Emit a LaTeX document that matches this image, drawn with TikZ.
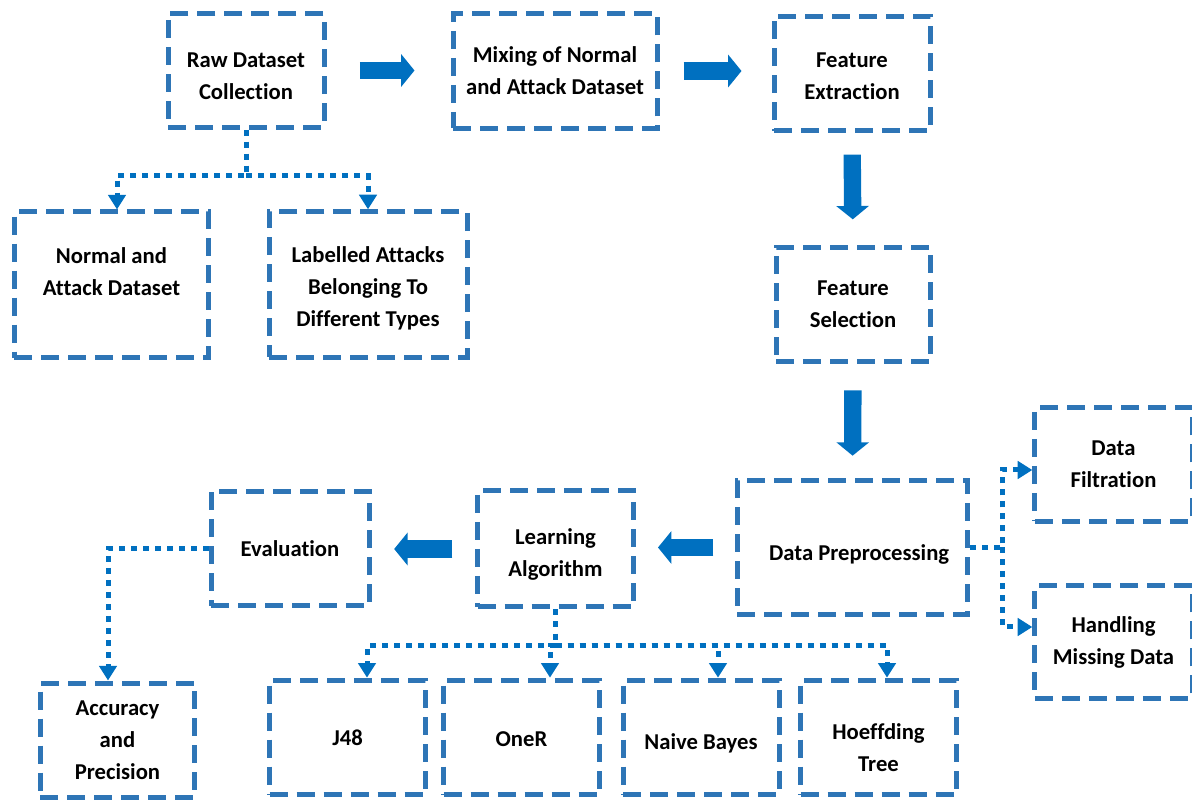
\documentclass[tikz,border=0pt]{standalone}
\usepackage{fontspec}
\setmainfont{Carlito}[Ligatures=NoCommon]
\usepackage{tikz}
\usetikzlibrary{arrows.meta, positioning, calc}
\usepackage{xcolor}
\definecolor{boxblue}{HTML}{2E75B6}
\definecolor{flowblue}{HTML}{0070C0}
% move box text up/down without moving the box
\newcommand{\txtshift}[2]{\raisebox{#1}[\height][\depth]{\begin{tabular}{@{}c@{}}#2\end{tabular}}}

\begin{document}
\begin{tikzpicture}[x=0.75pt, y=0.75pt,
  stagebox/.style={draw=boxblue, line width=3.75pt, dash pattern=on 13.5pt off 6.75pt,
    align=center, font=\fontsize{17}{24}\selectfont\bfseries, inner sep=0pt,
    minimum width=117pt, minimum height=86pt},
  bigarrow/.style={-{Triangle[length=10pt, width=24pt]}, line width=13pt, flowblue,
    shorten <=17pt, shorten >=17pt},
  dotarrow/.style={-{Triangle[length=11pt, width=13pt]}, line width=3.75pt, flowblue,
    dash pattern=on 4.5pt off 4.5pt}]
  \useasboundingbox (0,0) rectangle (1192,800);

  % Top row
  \node[stagebox, minimum height=85pt] (raw) at (246, 729.5)
    {\txtshift{-5pt}{Raw Dataset\\Collection}};
  \node[stagebox, minimum width=153pt] (mix) at (555, 729) {Mixing of Normal\\and Attack Dataset};
  \node[stagebox] (fext) at (852, 726.5) {\txtshift{-2.5pt}{Feature\\Extraction}};

  % Dataset split
  \node[stagebox, minimum width=146pt, minimum height=109.5pt] (nad) at (111.5, 515)
    {\txtshift{9pt}{Normal and\\Attack Dataset}};
  \node[stagebox, minimum width=148.5pt, minimum height=109pt] (lab) at (368, 515.5)
    {\txtshift{-3pt}{Labelled Attacks\\Belonging To\\Different Types}};

  % Right column
  \node[stagebox, minimum width=115.5pt] (fsel) at (853, 495.5) {Feature\\Selection};
  \node[stagebox, minimum width=173pt, minimum height=100pt] (dpre) at (852.5, 252.5)
    {\txtshift{-5pt}{\hspace*{10pt}Data Preprocessing}};
  \node[stagebox, minimum width=118pt, minimum height=85pt] (dfil) at (1113.5, 335.5)
    {Data\\Filtration};
  \node[stagebox, minimum width=118pt, minimum height=84pt] (hmd) at (1113.5, 158)
    {Handling\\Missing Data};

  % Middle row
  \node[stagebox, minimum height=87pt] (lalg) at (555.5, 251)
    {\txtshift{-3.5pt}{Learning\\Algorithm}};
  \node[stagebox, minimum width=118.5pt] (eval) at (290, 251.5) {Evaluation};

  % Bottom row
  \node[stagebox, minimum width=116pt, minimum height=85.5pt] (acc) at (117.5, 60)
    {Accuracy\\and\\Precision};
  \node[stagebox] (j48) at (347.5, 62.5) {J48};
  \node[stagebox] (oner) at (521.5, 62.5) {\txtshift{-2pt}{OneR}};
  \node[stagebox] (nb) at (701, 62.5) {\txtshift{-4.5pt}{Naive Bayes}};
  \node[stagebox] (ht) at (878.5, 62.5) {\txtshift{-9pt}{Hoeffding\\Tree}};

  % Main flow
  \draw[bigarrow, shorten <=25pt, shorten >=27pt] (raw.east) -- (raw.east -| mix.west);
  \draw[bigarrow, shorten <=18pt, shorten >=22.5pt] (mix.east) -- (mix.east -| fext.west);
  \draw[bigarrow, shorten <=16pt, shorten >=19pt] (fext.south) -- (fsel.north);
  \draw[bigarrow, shorten <=19.5pt] (fsel.south) -- (dpre.north);
  \draw[bigarrow, shorten <=16pt, shorten >=16.5pt] (dpre.west) -- (dpre.west -| lalg.east);
  \draw[bigarrow] (lalg.west) -- (lalg.west -| eval.east);

  % Dotted branches
  \draw[dotarrow] (raw.south) -- ++(0,-46) coordinate (rawsplit) -| ($(nad.north)+(5.5,0)$);
  \draw[dotarrow] (rawsplit) -| (lab.north);

  \draw[dotarrow] (dpre.east) -- ++(32,0) coordinate (dsplit) |- ($(dfil.west)+(0,-5.5)$);
  \draw[dotarrow] (dsplit) |- ($(hmd.west)+(0,15)$);

  \draw[dotarrow] (lalg.south) -- ++(0,-36) coordinate (lsplit) -| ($(j48.north)+(19.5,0)$);
  \draw[dotarrow] (lsplit) -| ($(oner.north)+(28.5,0)$);
  \draw[dotarrow] (lsplit) -| ($(nb.north)+(17,0)$);
  \draw[dotarrow] (lsplit) -| ($(ht.north)+(8.5,0)$);

  \draw[dotarrow] (eval.west) -| ($(acc.north)+(-9.5,0)$);
\end{tikzpicture}
\end{document}
